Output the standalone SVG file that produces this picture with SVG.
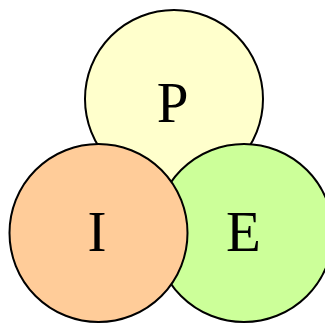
<svg xmlns="http://www.w3.org/2000/svg" width="325" height="324" viewBox="0 0 325 324">
<style>
circle{stroke:#000;stroke-width:2}
text{font-family:"Liberation Serif","Times New Roman",serif;font-size:57px;fill:#000;text-anchor:middle}
</style>
<rect width="325" height="324" fill="#fff"/>
<g id="node-P"><circle cx="174" cy="99" r="89" fill="#FFFFCC"/><text x="172.5" y="122">P</text></g>
<g id="node-E"><circle cx="244" cy="233" r="89" fill="#CCFF99"/><text x="243.5" y="251">E</text></g>
<g id="node-I"><circle cx="98.5" cy="233" r="89" fill="#FFCC99"/><text x="97" y="251">I</text></g>
<g id="connectors"/>
</svg>
